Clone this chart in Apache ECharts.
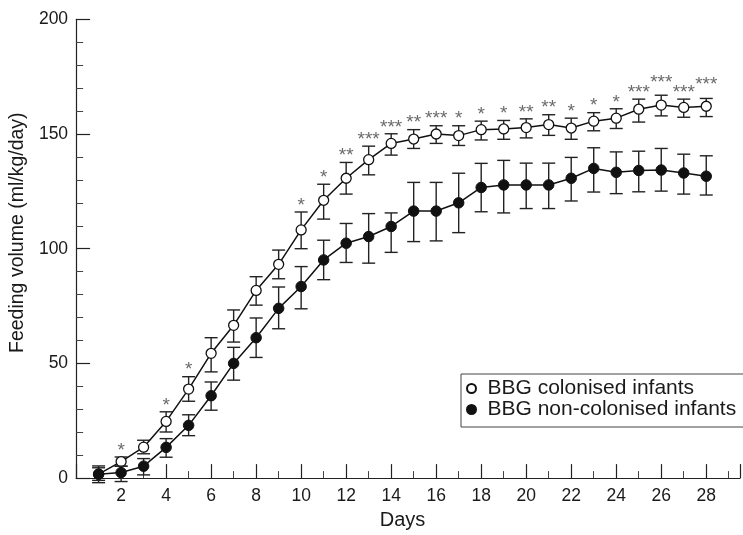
<!DOCTYPE html>
<html>
<head>
<meta charset="utf-8">
<script src="https://cdn.jsdelivr.net/npm/echarts@6/dist/echarts.min.js"></script>
<style>html,body{margin:0;padding:0;background:#fff;}#c{width:743px;height:535px;}</style>
</head>
<body>
<div id="c"></div>
<script>
const days = [1,2,3,4,5,6,7,8,9,10,11,12,13,14,15,16,17,18,19,20,21,22,23,24,25,26,27,28];

const colonisedMean  = [1.7, 7.2, 13.5, 24.7, 38.8, 54.4, 66.6, 81.8, 93.2, 108.2, 121.1, 130.7, 138.8, 145.9, 147.8, 150.0, 149.3, 151.9, 152.2, 152.8, 154.1, 152.6, 155.6, 156.9, 160.8, 162.6, 161.6, 162.1];
const colonisedUpper = [4.5, 9.2, 16.5, 28.9, 44.2, 61.2, 73.3, 87.8, 99.4, 116.0, 128.1, 137.6, 144.7, 150.1, 151.9, 153.6, 153.6, 155.6, 155.9, 156.6, 158.4, 156.9, 159.3, 161.0, 165.2, 166.9, 165.2, 165.5];
const colonisedLower = [-1.0, 5.2, 10.6, 20.1, 33.5, 46.3, 59.3, 75.4, 86.9, 100.0, 112.9, 123.8, 132.2, 140.8, 143.7, 145.9, 145.0, 147.4, 147.7, 148.3, 149.4, 147.7, 151.4, 152.4, 155.2, 157.9, 157.3, 157.6];

const nonColMean  = [1.7, 2.4, 5.2, 13.4, 23.0, 35.9, 50.0, 61.2, 74.0, 83.5, 95.1, 102.4, 105.3, 109.7, 116.4, 116.4, 120.0, 126.7, 127.8, 127.8, 127.8, 130.7, 135.0, 133.3, 134.1, 134.3, 133.0, 131.6];
const nonColUpper = [5.3, 5.2, 8.5, 17.2, 27.6, 41.9, 57.0, 69.8, 83.3, 92.2, 103.7, 111.0, 115.3, 115.6, 128.9, 128.9, 132.9, 137.2, 138.5, 137.3, 137.3, 139.8, 144.0, 142.2, 142.5, 143.7, 141.2, 140.5];
const nonColLower = [-2.0, -1.5, 1.4, 9.1, 18.5, 29.6, 42.7, 52.6, 65.1, 73.8, 86.5, 94.0, 93.7, 98.4, 103.1, 103.4, 107.0, 116.1, 115.6, 117.5, 117.5, 120.8, 124.7, 124.0, 124.8, 125.1, 123.8, 123.4];

const significance = ['', '*', '', '*', '*', '', '', '', '', '*', '*', '**', '***', '***', '**', '***', '*', '*', '*', '**', '**', '*', '*', '*', '***', '***', '***', '***'];

const seriesNames = ['BBG colonised infants', 'BBG non-colonised infants'];
const yTicks = [0, 50, 100, 150, 200];
const xTickLabels = [2,4,6,8,10,12,14,16,18,20,22,24,26,28];

// extra label lift (px) for crowded asterisk groups
const starExtraLift = {26: 6, 28: 7};

const FONT = '"Liberation Sans", Arial, Helvetica, sans-serif';

function errorBars(color) {
  return function (params, api) {
    const x = api.value(0);
    const lo = api.coord([x, api.value(1)]);
    const hi = api.coord([x, api.value(2)]);
    const w = 6.5;
    const st = {stroke: color, lineWidth: 1.4};
    return {
      type: 'group',
      children: [
        {type: 'line', shape: {x1: lo[0], y1: lo[1], x2: hi[0], y2: hi[1]}, style: st},
        {type: 'line', shape: {x1: hi[0] - w, y1: hi[1], x2: hi[0] + w, y2: hi[1]}, style: st},
        {type: 'line', shape: {x1: lo[0] - w, y1: lo[1], x2: lo[0] + w, y2: lo[1]}, style: st}
      ]
    };
  };
}

const chart = echarts.init(document.getElementById('c'), null, {renderer: 'canvas'});

const starData = [];
days.forEach((d, i) => {
  if (significance[i]) {
    starData.push({
      value: [d, colonisedUpper[i], significance[i]],
      label: {distance: 0 + (starExtraLift[d] || 0)}
    });
  }
});

chart.setOption({
  animation: false,
  backgroundColor: '#ffffff',
  textStyle: {fontFamily: FONT},
  grid: {left: 76, top: 19.3, width: 29.5 * 22.8, height: 464},
  xAxis: {
    type: 'value', min: 0, max: 29.5, interval: 2,
    name: 'Days', nameLocation: 'middle', nameGap: 31,
    nameTextStyle: {fontSize: 20, color: '#1a1a1a', fontFamily: FONT, padding: [0, 11, 0, 0]},
    axisLine: {show: true, lineStyle: {color: '#222', width: 1.2}},
    axisTick: {show: true, inside: true, length: 14, lineStyle: {color: '#222', width: 1.2}},
    minorTick: {show: true, splitNumber: 2, length: 7, lineStyle: {color: '#444', width: 1}},
    splitLine: {show: false},
    minorSplitLine: {show: false},
    axisLabel: {
      margin: 9, fontSize: 17.5, color: '#1a1a1a', fontFamily: FONT,
      formatter: v => (xTickLabels.indexOf(v) >= 0 ? String(v) : '')
    }
  },
  yAxis: {
    type: 'value', min: yTicks[0], max: yTicks[yTicks.length - 1], interval: 50,
    name: 'Feeding volume (ml/kg/day)', nameLocation: 'middle', nameGap: 41,
    nameTextStyle: {fontSize: 19.5, color: '#1a1a1a', fontFamily: FONT, padding: [0, 0, 0, 32]},
    axisLine: {show: true, lineStyle: {color: '#222', width: 1.2}},
    axisTick: {show: true, inside: true, length: 14, lineStyle: {color: '#222', width: 1.2}},
    minorTick: {show: true, splitNumber: 5, length: 7, lineStyle: {color: '#444', width: 1}},
    splitLine: {show: false},
    axisLabel: {margin: 8, fontSize: 17.5, color: '#1a1a1a', fontFamily: FONT}
  },
  legend: {
    orient: 'vertical', left: 461, top: 374,
    data: seriesNames,
    icon: 'circle', itemWidth: 22, itemHeight: 9, itemGap: 0,
    padding: [4, 30, 7, 5],
    borderColor: '#444', borderWidth: 1,
    textStyle: {fontSize: 21, color: '#1a1a1a', fontFamily: FONT, lineHeight: 20}
  },
  series: [
    {
      type: 'custom', name: 'colonisedErr', z: 2, clip: false,
      renderItem: errorBars('#222'),
      encode: {x: 0, y: [1, 2]},
      data: days.map((d, i) => [d, colonisedLower[i], colonisedUpper[i]]),
      silent: true
    },
    {
      type: 'line', name: seriesNames[0], z: 3,
      data: days.map((d, i) => [d, colonisedMean[i]]),
      symbol: 'circle', symbolSize: 10, showAllSymbol: true,
      lineStyle: {color: '#111', width: 1.5},
      itemStyle: {color: '#ffffff', borderColor: '#111', borderWidth: 1.3}
    },
    {
      type: 'custom', name: 'nonColErr', z: 4, clip: false,
      renderItem: errorBars('#222'),
      encode: {x: 0, y: [1, 2]},
      data: days.map((d, i) => [d, nonColLower[i], nonColUpper[i]]),
      silent: true
    },
    {
      type: 'line', name: seriesNames[1], z: 5,
      data: days.map((d, i) => [d, nonColMean[i]]),
      symbol: 'circle', symbolSize: 10.5, showAllSymbol: true,
      lineStyle: {color: '#111', width: 1.5},
      itemStyle: {color: '#111', borderColor: '#111', borderWidth: 1}
    },
    {
      type: 'scatter', name: 'significance', z: 6,
      data: starData, symbolSize: 0, silent: true,
      label: {
        show: true, position: 'top',
        formatter: p => p.value[2],
        fontSize: 19, color: '#444', fontFamily: FONT, lineHeight: 13
      }
    }
  ]
});
</script>
</body>
</html>
